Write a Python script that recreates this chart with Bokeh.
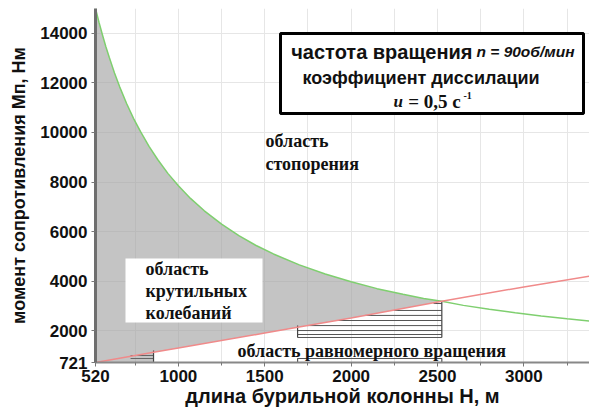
import math
from bokeh.plotting import figure
from bokeh.models import Range1d, FixedTicker, Label, BoxAnnotation
from bokeh.embed import file_html
from bokeh.resources import INLINE

# ---- data ----
H_stop = [520, 540, 560, 580, 600, 630, 660, 700, 740, 780, 830, 880, 940, 1000,
          1070, 1150, 1250, 1350, 1450, 1550, 1700, 1850, 2000, 2150, 2300, 2420,
          2525, 2650, 2800, 2950, 3100, 3250, 3380]
M_stop = [15000, 14450, 13940, 13460, 13020, 12400, 11840, 11170, 10570, 10040,
          9440, 8910, 8340, 7850, 7340, 6840, 6300, 5840, 5440, 5100, 4660, 4290,
          3975, 3700, 3470, 3300, 3190, 3025, 2870, 2730, 2600, 2485, 2395]

H_uni = [520, 856, 1000, 1500, 1690, 2000, 2525, 3000, 3380]
M_uni = [721, 1130, 1305, 1910, 2140, 2520, 3190, 3770, 4200]

# hatched "uniform rotation" zone
hatch_M = [3100, 2820, 2620, 2415, 2210, 2010, 1850, 1730]
hatch_H0 = [2477, 2247, 2082, 1914, 1745, 1690, 1690, 1690]
hatch_H1 = 2525
zone_left_H = 1690
zone_left_top = 2210
zone_M_low = 1730
ghost_M = 882

# small marks at the left end
left_H0, left_H1 = 723, 856
left_M = [1003, 882]
left_vline_top = 1205

x_ticks = [520, 1000, 1500, 2000, 2500, 3000]
x_minor = [750, 1250, 1750, 2250, 2750, 3250]
y_ticks = [721, 2000, 4000, 6000, 8000, 10000, 12000, 14000]

X0, X1 = 520, 3380
Y0, Y1 = 721, 15000

# ---- layout helpers (image px -> data) ----
W, HH = 589, 410
FL, FR, FT, FB = 95, 589, 8, 362
def hx(px):
    return X0 + (px - FL) * (X1 - X0) / (FR - FL)
def my(py):
    return Y0 + (FB - py) * (Y1 - Y0) / (FB - FT)

p = figure(width=W, height=HH, output_backend="svg", toolbar_location=None,
           x_range=Range1d(X0, X1), y_range=Range1d(Y0, Y1),
           min_border_left=FL, min_border_right=W - FR, min_border_top=FT,
           min_border_bottom=HH - FB)
p.outline_line_color = None
p.background_fill_color = "white"

p.xaxis.ticker = FixedTicker(ticks=x_ticks, minor_ticks=x_minor)
p.yaxis.ticker = FixedTicker(ticks=y_ticks)
p.xgrid.ticker = FixedTicker(ticks=x_minor + x_ticks[1:])
p.ygrid.ticker = FixedTicker(ticks=y_ticks[1:])
p.grid.grid_line_color = "#e6e6e6"
p.grid.grid_line_width = 1

for ax in (p.xaxis, p.yaxis):
    ax.major_label_text_font = "Liberation Sans"
    ax.major_label_text_font_style = "bold"
    ax.major_label_text_font_size = "17px"
    ax.major_label_text_color = "#111111"
    ax.major_tick_in = 0
    ax.minor_tick_in = 0
    ax.major_tick_out = 4
    ax.minor_tick_out = 3
    ax.major_tick_line_color = "#777777"
    ax.minor_tick_line_color = "#777777"
    ax.axis_label_text_font = "Liberation Sans"
    ax.axis_label_text_font_style = "bold"
    ax.axis_label_text_color = "#111111"
p.xaxis.axis_label_text_font_size = "20px"
p.yaxis.axis_label_text_font_size = "18px"
p.yaxis.axis_line_color = "#6e6e6e"
p.yaxis.axis_line_width = 3
p.xaxis.axis_line_color = "#888888"
p.xaxis.axis_line_width = 2
p.yaxis.minor_tick_line_color = None
p.xaxis.major_label_standoff = 3
p.yaxis.major_label_standoff = 4
p.xaxis.axis_label = "длина бурильной колонны H, м"
p.yaxis.axis_label = "момент сопротивления Mп, Нм"
p.xaxis.axis_label_standoff = 0
p.yaxis.axis_label_standoff = 8

# gray torsional-oscillation region
poly_x = []
poly_y = []
for h, m in zip(H_stop, M_stop):
    if h <= hatch_H1:
        poly_x.append(h); poly_y.append(m)
red_part = [(h, m) for h, m in zip(H_uni, M_uni) if left_H1 <= h <= hatch_H1]
for h, m in reversed(red_part):
    poly_x.append(h); poly_y.append(m)
poly_x += [left_H1, X0]
poly_y += [Y0, Y0]
p.patch(poly_x, poly_y, fill_color="#a0a0a0", fill_alpha=0.62, line_color=None)

# hatch lines
p.segment(x0=hatch_H0, y0=hatch_M, x1=[hatch_H1] * len(hatch_M), y1=hatch_M,
          line_color="#555555", line_width=1)
p.segment(x0=[zone_left_H, hatch_H1], y0=[zone_left_top, M_uni[6]],
          x1=[zone_left_H, hatch_H1], y1=[zone_M_low, zone_M_low],
          line_color="#444444", line_width=1.2)
p.line([zone_left_H, zone_left_H, hatch_H1, hatch_H1], [Y0, ghost_M, ghost_M, Y0],
       line_color="#555555", line_width=1.2)
p.segment(x0=[left_H0] * 2, y0=left_M, x1=[left_H1] * 2, y1=left_M,
          line_color="#666666", line_width=1)
p.segment(x0=[left_H1], y0=[Y0], x1=[left_H1], y1=[left_vline_top],
          line_color="#444444", line_width=1.2)

# curves
p.line(H_stop, M_stop, line_color="#7fcf6f", line_width=1.5)
p.line(H_uni, M_uni, line_color="#f08a8a", line_width=1.5)

SANS = "Liberation Sans"
SERIF = "Liberation Serif"

def lab(px, py, text, font=SERIF, size="18px", style="bold", align="left",
        angle=0, baseline="middle"):
    p.add_layout(Label(x=hx(px), y=my(py), text=text, text_font=font,
                       text_font_size=size, text_font_style=style,
                       text_align=align, text_baseline=baseline, angle=angle,
                       text_color="#111111"))

# legend box
p.add_layout(BoxAnnotation(left=hx(280), right=hx(583), top=my(33), bottom=my(113),
                           fill_color="white", fill_alpha=1.0,
                           line_color="black", line_alpha=1.0, line_width=3))
lab(472, 51, "частота вращения", font=SANS, size="20px", align="right")
lab(476, 51, "n = 90об/мин", font=SANS, size="15.5px", style="bold italic")
lab(302, 77, "коэффициент диссилации", font=SANS, size="18px")
lab(393, 101, "u", font=SERIF, size="17px", style="bold italic")
lab(403, 101, "\u00a0= 0,5 с", font=SERIF, size="19px")
lab(463, 95, "-1", font=SERIF, size="10px")

# stopping region
lab(265, 140, "область")
lab(265, 163, "стопорения")

# torsional oscillation label box
p.add_layout(BoxAnnotation(left=hx(125), right=hx(262), top=my(258), bottom=my(322),
                           fill_color="white", fill_alpha=1.0, line_color=None))
lab(145, 268, "область")
lab(145, 290, "крутильных")
lab(145, 312, "колебаний")

lab(237, 350, "область равномерного вращения")

open("out.html", "w").write(file_html(p, INLINE))
